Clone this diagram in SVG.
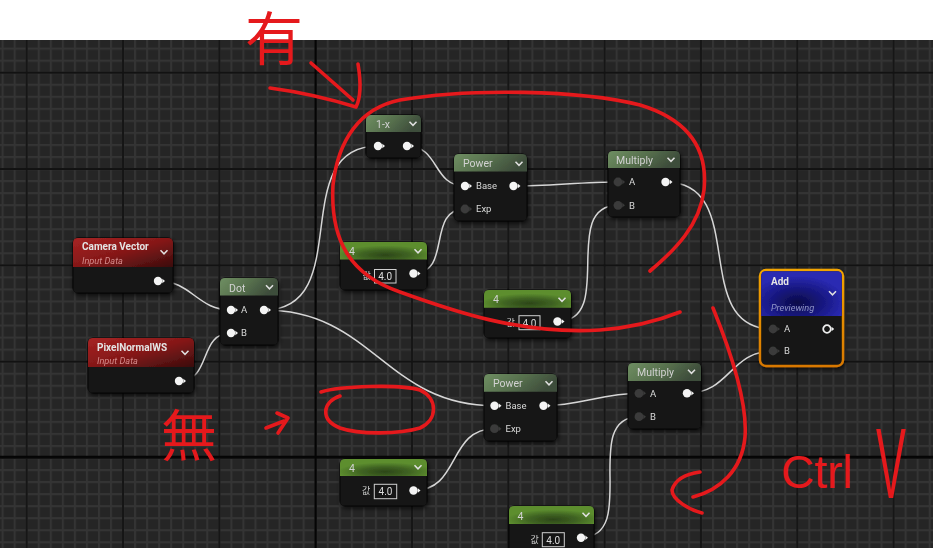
<svg xmlns="http://www.w3.org/2000/svg" xmlns:xlink="http://www.w3.org/1999/xlink" width="933" height="548" viewBox="0 0 933 548">
<defs>
<style>
.body{fill:#181918;stroke:#0b0b0b;stroke-width:1}
.ttl{font-family:Roboto,"Liberation Sans",sans-serif;font-size:10.5px;fill:#d2d2d2}
.ttlb{font-family:Roboto,"Liberation Sans",sans-serif;font-size:10px;font-weight:bold;fill:#e4e4e4}
.sub{font-family:Roboto,"Liberation Sans",sans-serif;font-size:9.2px;font-style:italic}
.lbl{font-family:Roboto,"Liberation Sans",sans-serif;font-size:9.5px;fill:#d8d8d8}
.val{font-family:Roboto,"Liberation Sans",sans-serif;font-size:10px;fill:#dcdcdc}
.kr{font-family:"Noto Sans CJK KR",sans-serif;font-size:9px;fill:#cfcfcf}
.box{fill:#151515;stroke:#cfcfcf;stroke-width:1}
.wire{fill:none;stroke:#d6d6d6;stroke-width:1.5}
.red{fill:none;stroke:#e5191c;stroke-width:3.6;stroke-linecap:round;stroke-linejoin:round}
.redt{fill:#e5191c}
</style>
<pattern id="minor" x="1.62" y="35.58" width="12.04" height="12.04" patternUnits="userSpaceOnUse">
<rect width="12.04" height="12.04" fill="#252525"/>
<path d="M1,0V12.04M0,1H12.04" stroke="#343434" stroke-width="2"/>
</pattern>
<pattern id="major" x="25.7" y="71.7" width="96.32" height="96.32" patternUnits="userSpaceOnUse">
<path d="M1,0V96.32M0,1H96.32" stroke="#121212" stroke-width="1.8"/>
</pattern>
<linearGradient id="gHdr" x1="0" y1="0" x2="1" y2="0.3">
<stop offset="0" stop-color="#6f8f62"/><stop offset="0.55" stop-color="#566f4d"/><stop offset="1" stop-color="#3e4d3b"/>
</linearGradient>
<radialGradient id="gConst" cx="0.52" cy="0.75" r="0.55">
<stop offset="0" stop-color="#2c4618"/><stop offset="0.5" stop-color="#3f6322"/><stop offset="1" stop-color="#5d8e2f"/>
</radialGradient>
<linearGradient id="gRed" x1="0" y1="0" x2="1" y2="1">
<stop offset="0" stop-color="#a72323"/><stop offset="0.5" stop-color="#851818"/><stop offset="1" stop-color="#3a0d0d"/>
</linearGradient>
<radialGradient id="gBlue" cx="0.45" cy="0.7" r="0.6">
<stop offset="0" stop-color="#0b0b48"/><stop offset="0.6" stop-color="#1a1a88"/><stop offset="1" stop-color="#2a2ab2"/>
</radialGradient>
<linearGradient id="gOr" x1="0" y1="0" x2="0" y2="1">
<stop offset="0" stop-color="#f2a400"/><stop offset="1" stop-color="#d87800"/>
</linearGradient>
<filter id="sh" x="-20%" y="-20%" width="140%" height="150%">
<feDropShadow dx="1" dy="2" stdDeviation="2" flood-color="#000" flood-opacity="0.7"/>
</filter>
<path id="chev" d="M-3.5,-1.8L0,1.8L3.5,-1.8" fill="none" stroke="#e0e0e0" stroke-width="1.5"/>
<g id="pinW"><circle r="4.2" fill="#f4f4f4"/><path d="M4.3,-2.2L7,0L4.3,2.2Z" fill="#f4f4f4"/></g>
<g id="pinD"><circle r="4.4" fill="#3a3a3a"/><path d="M4.3,-2.2L7,0L4.3,2.2Z" fill="#3a3a3a"/></g>
<g id="pinR"><circle r="3.8" fill="none" stroke="#eeeeee" stroke-width="1.8"/><path d="M4.6,-2.2L7.2,0L4.6,2.2Z" fill="#eeeeee"/></g>
</defs>

<rect x="0" y="0" width="933" height="40" fill="#ffffff"/>
<rect x="0" y="40" width="933" height="508" fill="url(#minor)"/>
<rect x="0" y="40" width="933" height="508" fill="url(#major)"/>
<path d="M315.6,40V548M0,456.8H933" stroke="#050505" stroke-width="2"/>

<g id="connectors">
<path class="wire" d="M158,281C192,281 197,310 231,310"/>
<path class="wire" d="M179,381C212,381 198,333 231,333"/>
<path class="wire" d="M264,310C357,310 285,146 378,146"/>
<path class="wire" d="M264,310C373,310 385.5,405.7 494.5,405.7"/>
<path class="wire" d="M407,146C440,146 432,186 465,186"/>
<path class="wire" d="M413.5,273.5C452.5,273.5 426,209 465,209"/>
<path class="wire" d="M513.5,186C549.5,186 582,182 618,182"/>
<path class="wire" d="M557.5,321.5C616.5,321.5 559,205.3 618,205.3"/>
<path class="wire" d="M665.5,182C750.5,182 688,329 773,329"/>
<path class="wire" d="M543.5,405.7C579.5,405.7 603,393.3 639,393.3"/>
<path class="wire" d="M413.5,490.5C461,490.5 447,428.7 494.5,428.7"/>
<path class="wire" d="M581,537.5C640.7,537.5 579.3,416.7 639,416.7"/>
<path class="wire" d="M687,393.3C729.8,393.3 730.2,351 773,351"/>
</g>

<g id="camera-vector" transform="translate(73,238)" filter="url(#sh)">
<rect class="body" width="100" height="55" rx="5"/>
<path d="M0,29V5Q0,0 5,0H95Q100,0 100,5V29Z" fill="url(#gRed)"/>
<text class="ttlb" x="9" y="11.8">Camera Vector</text>
<text class="sub" x="9" y="25.5" fill="#d48a8a">Input Data</text>
<use href="#chev" x="91" y="14"/>
<use href="#pinW" x="85" y="43"/>
</g>

<g id="pixel-normal-ws" transform="translate(88,338)" filter="url(#sh)">
<rect class="body" width="106" height="55" rx="5"/>
<path d="M0,29V5Q0,0 5,0H101Q106,0 106,5V29Z" fill="url(#gRed)"/>
<text class="ttlb" x="9" y="12.5">PixelNormalWS</text>
<text class="sub" x="9" y="25.5" fill="#d48a8a">Input Data</text>
<use href="#chev" x="97" y="14.5"/>
<use href="#pinW" x="91" y="43"/>
</g>

<g id="dot" transform="translate(220,278)" filter="url(#sh)">
<rect class="body" width="58" height="67" rx="5"/>
<path d="M0,17.5V5Q0,0 5,0H53Q58,0 58,5V17.5Z" fill="url(#gHdr)"/>
<text class="ttl" x="9" y="13.5">Dot</text>
<use href="#chev" x="49.5" y="9"/>
<use href="#pinW" x="11" y="32"/><text class="lbl" x="21" y="35.3">A</text>
<use href="#pinW" x="11" y="55"/><text class="lbl" x="21" y="58.3">B</text>
<use href="#pinW" x="44" y="32"/>
</g>

<g id="one-minus" transform="translate(366,115)" filter="url(#sh)">
<rect class="body" width="55" height="43" rx="5"/>
<path d="M0,17V5Q0,0 5,0H50Q55,0 55,5V17Z" fill="url(#gHdr)"/>
<text class="ttl" x="10" y="12.8">1-x</text>
<use href="#chev" x="47" y="8.5"/>
<use href="#pinW" x="12" y="31"/>
<use href="#pinW" x="41" y="31"/>
</g>

<g id="power-1" transform="translate(454,154)" filter="url(#sh)">
<rect class="body" width="73" height="67" rx="5"/>
<path d="M0,17.5V5Q0,0 5,0H68Q73,0 73,5V17.5Z" fill="url(#gHdr)"/>
<text class="ttl" x="9" y="13.3">Power</text>
<use href="#chev" x="65" y="9.5"/>
<use href="#pinW" x="11" y="32"/><text class="lbl" x="22" y="35.3">Base</text>
<use href="#pinD" x="11" y="55"/><text class="lbl" x="22" y="58.3">Exp</text>
<use href="#pinW" x="59.5" y="32"/>
</g>

<g id="const-1" transform="translate(340,242)" filter="url(#sh)">
<rect class="body" width="87" height="48" rx="5"/>
<path d="M0,17.5V5Q0,0 5,0H82Q87,0 87,5V17.5Z" fill="url(#gConst)"/>
<text class="ttl" x="9" y="13.3">4</text>
<use href="#chev" x="78" y="9"/>
<text class="kr" x="22.5" y="36.5">값</text>
<rect class="box" x="34.5" y="27.5" width="21.5" height="13.5"/>
<text class="val" x="45.2" y="38" text-anchor="middle">4.0</text>
<use href="#pinW" x="73.5" y="31.5"/>
</g>

<g id="multiply-1" transform="translate(608,151)" filter="url(#sh)">
<rect class="body" width="72" height="66" rx="5"/>
<path d="M0,17V5Q0,0 5,0H67Q72,0 72,5V17Z" fill="url(#gHdr)"/>
<text class="ttl" x="8" y="13">Multiply</text>
<use href="#chev" x="63" y="8.5"/>
<use href="#pinD" x="10" y="31"/><text class="lbl" x="21" y="34.3">A</text>
<use href="#pinD" x="10" y="54.3"/><text class="lbl" x="21" y="57.6">B</text>
<use href="#pinW" x="57.5" y="31"/>
</g>

<g id="const-2" transform="translate(484,290)" filter="url(#sh)">
<rect class="body" width="87" height="48" rx="5"/>
<path d="M0,17.7V5Q0,0 5,0H82Q87,0 87,5V17.7Z" fill="url(#gConst)"/>
<text class="ttl" x="9" y="13.3">4</text>
<use href="#chev" x="78" y="9.5"/>
<text class="kr" x="22.5" y="35.5">값</text>
<rect class="box" x="35" y="25.7" width="21" height="14"/>
<text class="val" x="45.5" y="36.5" text-anchor="middle">4.0</text>
<use href="#pinW" x="73.5" y="31.5"/>
</g>

<g id="add" transform="translate(759,269)" filter="url(#sh)">
<rect x="1" y="1" width="83" height="96" rx="6" fill="#151615" stroke="url(#gOr)" stroke-width="2.4"/>
<path d="M2.2,47V6.5Q2.2,2.2 6.5,2.2H78.5Q82.8,2.2 82.8,6.5V47Z" fill="url(#gBlue)"/>
<text class="ttlb" x="12" y="16">Add</text>
<use href="#chev" x="73.5" y="24"/>
<text class="sub" x="12" y="42" fill="#9196c8">Previewing</text>
<use href="#pinD" x="14" y="60"/><text class="lbl" x="25" y="63.3">A</text>
<use href="#pinD" x="14" y="82"/><text class="lbl" x="25" y="85.3">B</text>
<use href="#pinR" x="68" y="60"/>
</g>

<g id="power-2" transform="translate(484,374)" filter="url(#sh)">
<rect class="body" width="73" height="67" rx="5"/>
<path d="M0,17.7V5Q0,0 5,0H68Q73,0 73,5V17.7Z" fill="url(#gHdr)"/>
<text class="ttl" x="9" y="13.3">Power</text>
<use href="#chev" x="65" y="9"/>
<use href="#pinW" x="10.5" y="31.7"/><text class="lbl" x="21.5" y="35">Base</text>
<use href="#pinD" x="10.5" y="54.7"/><text class="lbl" x="21.5" y="58">Exp</text>
<use href="#pinW" x="59.5" y="31.7"/>
</g>

<g id="const-3" transform="translate(340,459)" filter="url(#sh)">
<rect class="body" width="87" height="47" rx="5"/>
<path d="M0,17V5Q0,0 5,0H82Q87,0 87,5V17Z" fill="url(#gConst)"/>
<text class="ttl" x="9" y="12.5">4</text>
<use href="#chev" x="78" y="8"/>
<text class="kr" x="22" y="35">값</text>
<rect class="box" x="34.3" y="25.3" width="22.4" height="14.4"/>
<text class="val" x="45.5" y="36.3" text-anchor="middle">4.0</text>
<use href="#pinW" x="73.5" y="31.5"/>
</g>

<g id="const-4" transform="translate(509,506)" filter="url(#sh)">
<rect class="body" width="85" height="50" rx="5"/>
<path d="M0,18V5Q0,0 5,0H80Q85,0 85,5V18Z" fill="url(#gConst)"/>
<text class="ttl" x="8.5" y="13.5">4</text>
<use href="#chev" x="77" y="8.5"/>
<text class="kr" x="21.5" y="36.5">값</text>
<rect class="box" x="33.3" y="26.7" width="22" height="14"/>
<text class="val" x="44.3" y="37.5" text-anchor="middle">4.0</text>
<use href="#pinW" x="72" y="31.7"/>
</g>

<g id="multiply-2" transform="translate(628,363)" filter="url(#sh)">
<rect class="body" width="73" height="66" rx="5"/>
<path d="M0,18V5Q0,0 5,0H68Q73,0 73,5V18Z" fill="url(#gHdr)"/>
<text class="ttl" x="9" y="13">Multiply</text>
<use href="#chev" x="63.5" y="8.5"/>
<use href="#pinD" x="11" y="30.3"/><text class="lbl" x="22" y="33.6">A</text>
<use href="#pinD" x="11" y="53.7"/><text class="lbl" x="22" y="57">B</text>
<use href="#pinW" x="59" y="30.3"/>
</g>

<g id="annotations">
<text class="redt" x="245" y="60" font-family="'Noto Sans CJK JP',sans-serif" font-size="58">有</text>
<path class="red" d="M270,88C300,92 330,99 356,107M311,63L353,100M358,64C361,82 361,97 356,107"/>
<path class="red" d="M650,271C675,250 700,225 704,190C708,150 690,120 640,105C580,90 470,88 400,100C360,108 338,140 333,185C330,240 350,275 400,292C450,310 520,335 600,330C640,327 665,318 680,312"/>
<text class="redt" x="161" y="456" font-family="'Noto Sans CJK JP',sans-serif" font-size="56">無</text>
<path class="red" d="M266,428L284,421M277,413L288,418L278,433"/>
<path class="red" d="M340,396C322,402 320,420 340,428C360,435 400,434 420,428C438,420 438,398 420,390C400,384 340,386 321,392"/>
<path class="red" d="M713,308C728,345 748,400 745,437C742,470 720,490 693,497M700,472C685,474 675,480 672,490C672,500 690,510 702,513"/>
<text class="redt" x="781" y="488" font-family="'Liberation Sans',sans-serif" font-size="46">Ctrl</text>
<text class="redt" transform="translate(876,498) scale(0.45,1)" font-family="'Liberation Sans',sans-serif" font-size="100">V</text>
</g>
</svg>
